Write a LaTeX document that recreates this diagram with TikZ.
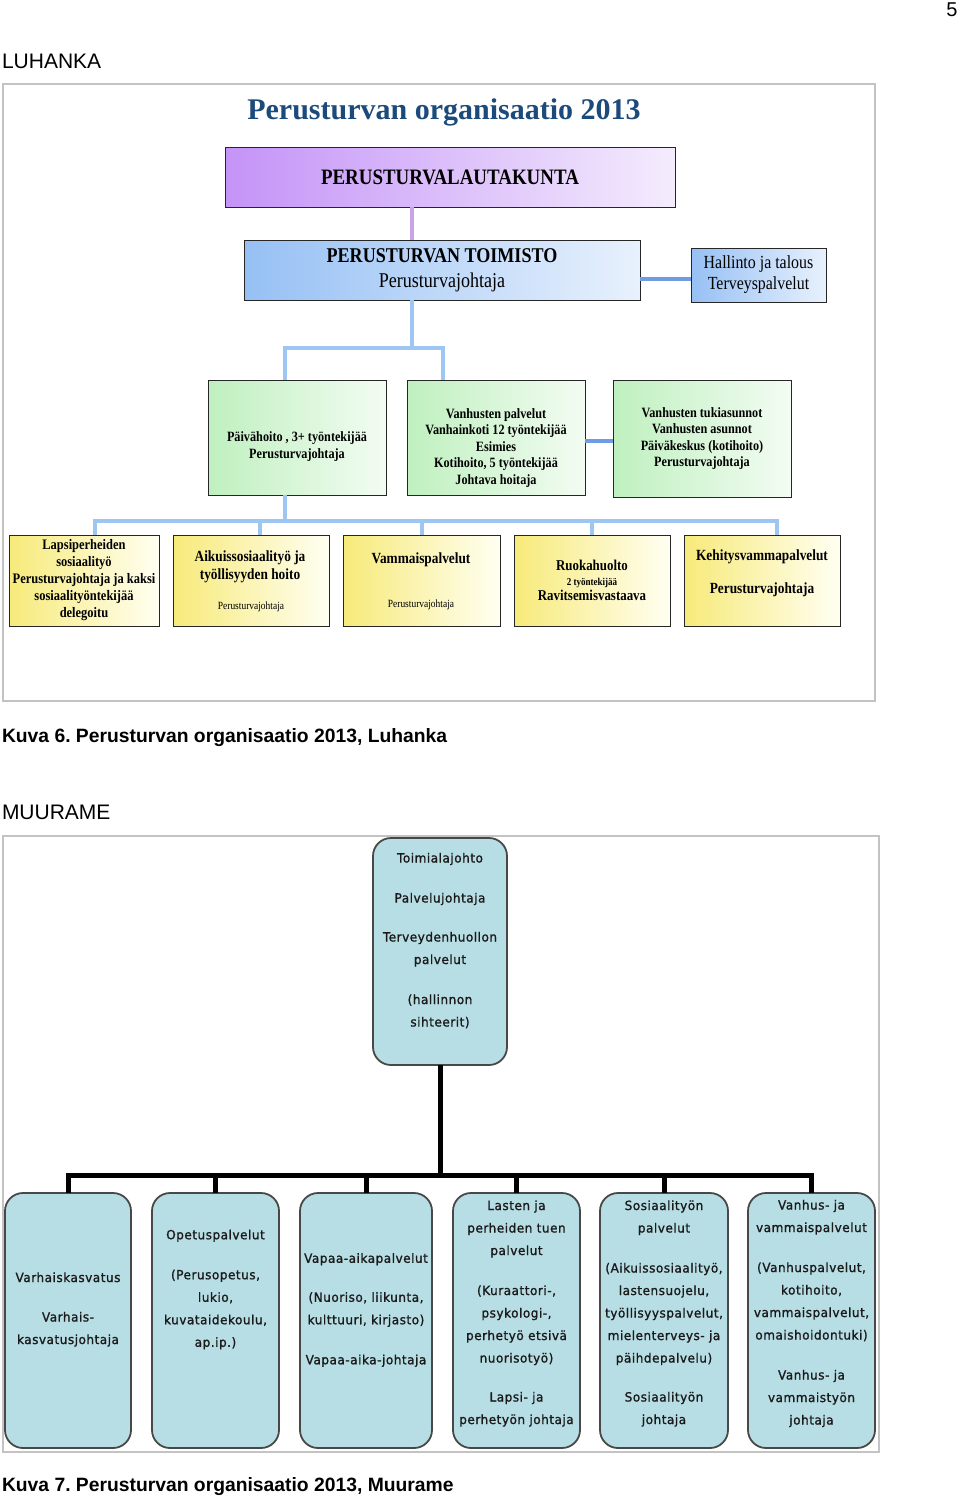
\documentclass[tikz,border=0pt]{standalone}
\usepackage{fontspec}
\setmainfont{Liberation Serif}[FakeStretch=0.86]
\newfontfamily\titlefont{Liberation Serif}
\newfontfamily\arialfont{Liberation Sans}
\newfontfamily\mfont[FakeStretch=0.95,LetterSpace=4,FakeBold=1.2]{DejaVu Sans}
\usetikzlibrary{positioning,calc}
\definecolor{framegray}{HTML}{C3C3C3}
\definecolor{titleblue}{HTML}{1C4A7A}
\definecolor{lilac}{HTML}{C493F7}
\definecolor{lilaclight}{HTML}{F4ECFD}
\definecolor{sky}{HTML}{96C0F4}
\definecolor{skylight}{HTML}{E8F1FD}
\definecolor{mint}{HTML}{BFF0BF}
\definecolor{mintlight}{HTML}{F3FCF3}
\definecolor{lemon}{HTML}{F7EA7A}
\definecolor{lemonlight}{HTML}{FFFFF2}
\definecolor{linkblue}{HTML}{9EC6F2}
\definecolor{linkdark}{HTML}{6F9DE2}
\definecolor{linklilac}{HTML}{C9A3E8}
\definecolor{aqua}{HTML}{B8DEE5}
\definecolor{ink}{HTML}{1A1A1A}
\frenchspacing

\begin{document}
\begin{tikzpicture}[x=1pt, y=-1pt,
  every node/.style={inner sep=0pt, outer sep=0pt},
  box/.style={rectangle, draw=black!85, line width=0.9pt, align=center},
  lautabox/.style={box, left color=lilac, right color=lilaclight, font=\fontsize{22}{24}\selectfont\bfseries},
  toimbox/.style={box, left color=sky, right color=skylight},
  greenbox/.style={box, left color=mint, right color=mintlight, minimum width=178, minimum height=115},
  yellowbox/.style={box, left color=lemon, right color=lemonlight, minimum height=91},
  gtext/.style={align=center, font=\fontsize{14.2}{16.5}\selectfont\bfseries},
  ytext/.style={align=center, font=\fontsize{14.5}{17}\selectfont\bfseries},
  ybig/.style={align=center, font=\fontsize{15.5}{18}\selectfont\bfseries},
  tinytext/.style={font=\fontsize{11}{12}\selectfont},
  bline/.style={draw=linkblue, line width=4pt},
  dline/.style={draw=linkdark, line width=4pt},
  frame/.style={draw=framegray, line width=2pt},
  mbox/.style={rectangle, rounded corners=18pt, draw=ink!80, line width=1.8pt, fill=aqua, minimum width=127, minimum height=255},
  mtext/.style={align=center, text=ink, font=\mfont\fontsize{12.7}{22.5}\selectfont},
  mline/.style={draw=black, line width=5pt},
  caption/.style={anchor=base west, font=\arialfont\fontsize{19.3}{22}\selectfont\bfseries},
  heading/.style={anchor=base west, font=\arialfont\fontsize{21}{24}\selectfont},
]
\useasboundingbox (0,0) rectangle (960,1497);

% Page number and first heading
\node[font=\arialfont\fontsize{20}{22}\selectfont] (page) at (952,10) {5};
\node[heading] (luhanka) at (2,68) {LUHANKA};

% Luhanka chart
\draw[frame] (3,84) rectangle (875,701);
\node[font=\titlefont\fontsize{30}{32}\selectfont\bfseries, text=titleblue] (title) at (444,112) {Perusturvan organisaatio 2013};

\node[lautabox, minimum width=450, minimum height=60] (lauta) at (450,177) {PERUSTURVALAUTAKUNTA};
\node[toimbox, minimum width=396, minimum height=60, font=\fontsize{21}{25}\selectfont] (toim) at (442,270) {\textbf{PERUSTURVAN TOIMISTO}\\Perusturvajohtaja};
\node[toimbox, minimum width=135, minimum height=54, font=\fontsize{18.5}{21}\selectfont] (hall) at (758.5,275) {Hallinto ja talous\\Terveyspalvelut};

\node[greenbox] (paiva) at (297,437.5) {};
\node[gtext] (paivat) at (297,446.5) {Päivähoito , 3+ työntekijää\\Perusturvajohtaja};
\node[greenbox] (vanh) at (496,437.5) {};
\node[gtext] (vanht) at (496,448) {Vanhusten palvelut\\Vanhainkoti 12 työntekijää\\Esimies\\Kotihoito, 5 työntekijää\\Johtava hoitaja};
\node[greenbox, minimum height=117, gtext] (tuki) at (702,438.5) {Vanhusten tukiasunnot\\Vanhusten asunnot\\Päiväkeskus (kotihoito)\\Perusturvajohtaja};

\node[yellowbox, minimum width=150, ytext] (lapsi) at (84,580.5) {Lapsiperheiden\\sosiaalityö\\Perusturvajohtaja ja kaksi\\sosiaalityöntekijää\\delegoitu};
\node[yellowbox, minimum width=156] (aikuis) at (251,580.5) {};
\node[ybig] (aikuist) at (250,567) {Aikuissosiaalityö ja\\työllisyyden hoito};
\node[tinytext] (aikuisj) at (251,607) {Perusturvajohtaja};
\node[yellowbox, minimum width=157] (vammais) at (421.5,580.5) {};
\node[ybig] (vammaist) at (421,560) {Vammaispalvelut};
\node[tinytext] (vammaisj) at (421,605) {Perusturvajohtaja};
\node[yellowbox, minimum width=156, align=center, font=\fontsize{15}{15}\selectfont\bfseries] (ruoka) at (592,580.5) {Ruokahuolto\\{\fontsize{10.5}{15}\selectfont 2 työntekijää}\\Ravitsemisvastaava};
\node[yellowbox, minimum width=156] (kehitys) at (762,580.5) {};
\node[ybig] (kehityst) at (762,573.5) {Kehitysvammapalvelut\\[15pt]Perusturvajohtaja};

% Luhanka connectors
\coordinate (c1) at (412,0);
\draw[draw=linklilac, line width=4pt] (lauta.south -| c1) -- (toim.north -| c1);
\coordinate (c2) at (0,279);
\draw[dline] (toim.east |- c2) -- (hall.west |- c2);
\coordinate (t1) at (412,348);
\coordinate (t2) at (285,348);
\coordinate (t3) at (443,348);
\draw[bline] (toim.south -| t1) -- (t1);
\draw[bline] (t2 |- paiva.north) -- (t2) -- (t3) -- (t3 |- vanh.north);
\coordinate (c3) at (0,441);
\draw[dline] (vanh.east |- c3) -- (tuki.west |- c3);
\coordinate (b0) at (285,521);
\coordinate (b1) at (95,521);
\coordinate (b2) at (260,521);
\coordinate (b3) at (422,521);
\coordinate (b4) at (592,521);
\coordinate (b5) at (777,521);
\draw[bline] (paiva.south -| b0) -- (b0);
\draw[bline] (b1 |- lapsi.north) -- (b1) -- (b5) -- (b5 |- kehitys.north);
\draw[bline] (b2) -- (b2 |- aikuis.north);
\draw[bline] (b3) -- (b3 |- vammais.north);
\draw[bline] (b4) -- (b4 |- ruoka.north);

\node[caption] (cap6) at (2,742) {Kuva 6. Perusturvan organisaatio 2013, Luhanka};

% Muurame chart
\node[heading] (muurame) at (2,819) {MUURAME};
\draw[frame] (3,836) rectangle (879,1452);

\node[mbox, minimum width=134, minimum height=227] (toimiala) at (440,951.5) {};
\node[mtext] (toimialat) at (440,940.5) {Toimialajohto\\[17.5pt]Palvelujohtaja\\[16.5pt]Terveydenhuollon\\palvelut\\[17.5pt](hallinnon\\sihteerit)};

\foreach \n/\x/\w in {1/68/126, 2/215.5/127, 3/366/132, 4/516.5/127, 5/664/128, 6/811.5/127}
  \node[mbox, minimum width=\w] (m\n) at (\x,1320.5) {};

\node[mtext] (m1t) at (68,1309.5) {Varhaiskasvatus\\[17pt]Varhais-\\kasvatusjohtaja};
\node[mtext] (m2t) at (215.5,1289.5) {Opetuspalvelut\\[17.5pt](Perusopetus,\\lukio,\\kuvataidekoulu,\\ap.ip.)};
\node[mtext] (m3t) at (366,1310) {Vapaa-aikapalvelut\\[16.5pt](Nuoriso, liikunta,\\kulttuuri, kirjasto)\\[17.5pt]Vapaa-aika-johtaja};
\node[mtext] (m4t) at (516.5,1313.5) {Lasten ja\\perheiden tuen\\palvelut\\[17.5pt](Kuraattori-,\\psykologi-,\\perhetyö etsivä\\nuorisotyö)\\[16.5pt]Lapsi- ja\\perhetyön johtaja};
\node[mtext] (m5t) at (664,1313.5) {Sosiaalityön\\palvelut\\[17.5pt](Aikuissosiaalityö,\\lastensuojelu,\\työllisyyspalvelut,\\mielenterveys- ja\\päihdepalvelu)\\[16.5pt]Sosiaalityön\\johtaja};
\node[mtext] (m6t) at (811.5,1313.5) {Vanhus- ja\\vammaispalvelut\\[17.5pt](Vanhuspalvelut,\\kotihoito,\\vammaispalvelut,\\omaishoidontuki)\\[17.5pt]Vanhus- ja\\vammaistyön\\johtaja};

% Muurame connectors
\coordinate (mj) at (440,1175);
\draw[mline] (toimiala.south) -- (toimiala.south |- mj);
\draw[mline] (m1.north) |- (m6.north |- mj) -- (m6.north);
\foreach \n in {2,...,5}
  \draw[mline] (m\n.north) -- (m\n.north |- mj);

\node[caption] (cap7) at (2,1491) {Kuva 7. Perusturvan organisaatio 2013, Muurame};
\end{tikzpicture}
\end{document}
